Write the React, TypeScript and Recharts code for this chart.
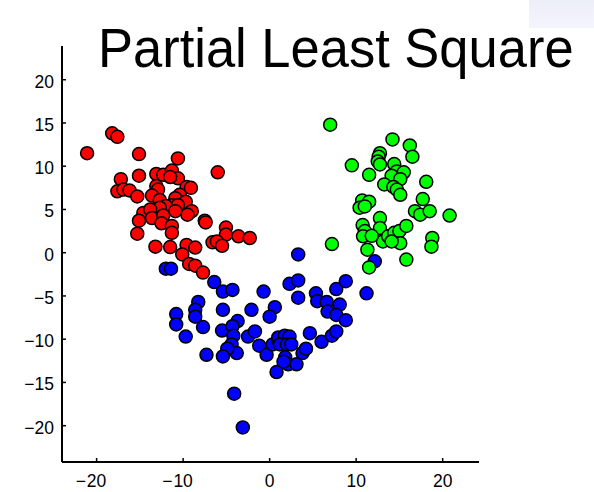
import React from 'react';
import { ScatterChart, Scatter, XAxis, YAxis } from 'recharts';

const title = 'Partial Least Square';
const xTicks = [-20, -10, 0, 10, 20];
const yTicks = [-20, -15, -10, -5, 0, 5, 10, 15, 20];

const redPoints: number[][] = [
  [-21.1, 11.5], [-18.2, 13.8], [-17.6, 13.4], [-15.1, 11.4], [-10.6, 10.9], [-6.0, 9.3],
  [-15.1, 8.9], [-17.2, 8.5], [-13.1, 9.1], [-12.3, 9.0], [-11.3, 9.5], [-10.6, 8.6],
  [-11.5, 8.75], [-17.6, 7.1], [-16.9, 7.3], [-16.2, 7.2], [-15.3, 6.5], [-13.1, 7.7],
  [-12.9, 7.3], [-13.6, 6.6], [-12.7, 6.1], [-9.6, 7.6], [-9.1, 7.5], [-10.4, 6.7],
  [-10.9, 6.3], [-9.7, 5.9], [-11.3, 5.5], [-10.6, 5.5], [-12.0, 5.4], [-12.7, 5.2],
  [-14.6, 4.6], [-13.8, 5.0], [-9.0, 4.8], [-9.5, 4.4], [-10.9, 4.8], [-15.1, 3.7],
  [-13.6, 4.0], [-12.3, 4.3], [-12.5, 3.4], [-11.3, 3.1], [-11.3, 2.3], [-15.3, 2.2],
  [-7.5, 3.7], [-7.4, 3.5], [-5.05, 2.9], [-5.05, 2.1], [-3.6, 1.9], [-2.3, 1.7],
  [-6.6, 1.2], [-6.1, 1.3], [-5.5, 0.8], [-13.2, 0.7], [-11.5, 0.65], [-9.6, 0.9],
  [-8.6, 0.6], [-10.1, -0.2], [-9.3, -1.3], [-8.6, -1.5], [-7.7, -2.3],
];

const bluePoints: number[][] = [
  [-12.0, -1.85], [-11.4, -1.85], [-6.4, -3.4], [-5.4, -4.5], [-4.3, -4.3], [-0.7, -4.5],
  [-8.25, -5.7], [-8.6, -6.6], [-8.6, -7.4], [-10.8, -7.1], [-10.8, -8.3], [-9.7, -9.7],
  [-7.7, -8.6], [-5.4, -6.6], [-2.1, -6.6], [0.6, -6.3], [0.0, -7.4], [-5.5, -9.0],
  [-3.7, -7.9], [-4.3, -8.5], [-4.2, -9.6], [-4.4, -10.6], [-3.8, -11.6], [-4.9, -11.1],
  [-5.4, -12.0], [-7.3, -11.8], [-2.5, -9.7], [-1.7, -9.1], [-1.2, -10.75], [-0.35, -11.8],
  [0.35, -10.6], [1.0, -10.1], [0.8, -13.8], [-4.1, -16.3], [-3.1, -20.2],
  [3.3, -0.2], [2.3, -3.6], [3.3, -3.2], [3.3, -5.2], [5.35, -4.7], [5.5, -5.6],
  [7.7, -4.2], [8.8, -3.3], [6.6, -5.7], [8.1, -6.0], [6.7, -6.8], [7.7, -7.2],
  [8.8, -7.8], [11.2, -4.7], [4.65, -9.3], [6.0, -10.3], [7.2, -9.6], [7.7, -9.1],
  [1.0, -9.8], [1.75, -9.6], [2.3, -9.7], [1.2, -10.6], [2.0, -10.6], [2.5, -10.6],
  [1.8, -12.1], [2.15, -12.9], [1.6, -12.6], [3.1, -12.9], [3.8, -11.6], [4.2, -11.1],
  [12.15, -1.0],
];

const greenPoints: number[][] = [
  [7.0, 14.8], [14.2, 13.1], [16.2, 12.4], [16.5, 11.1], [12.75, 11.5], [12.6, 11.1],
  [12.5, 10.55], [12.75, 10.2], [9.5, 10.1], [11.5, 9.0], [14.4, 10.25], [14.7, 9.4],
  [15.5, 9.3], [14.1, 8.9], [15.1, 8.5], [13.25, 7.9], [14.3, 7.6], [14.7, 7.3],
  [15.1, 6.7], [18.1, 8.2], [17.7, 6.2], [16.8, 4.8], [17.4, 4.4], [18.5, 4.8],
  [20.8, 4.3], [10.7, 6.05], [11.5, 5.9], [10.4, 5.2], [11.0, 5.35], [10.75, 3.2],
  [11.0, 2.5], [10.8, 1.9], [12.75, 4.0], [12.75, 2.85], [13.1, 1.3], [11.8, 1.95],
  [11.3, 0.35], [13.7, 1.9], [14.4, 2.3], [15.0, 2.5], [15.1, 1.1], [14.1, 1.3],
  [15.8, 3.1], [18.8, 1.7], [18.7, 0.7], [7.2, 1.0], [15.8, -0.8], [11.5, -1.7],
];

const toData = (pts: number[][]) => pts.map(([x, y]) => ({ x, y }));

const FONT = '"Liberation Sans", Arial, sans-serif';

const makeDot = (fill: string) => (props: any) => {
  const { cx, cy } = props;
  if (cx == null || cy == null) return <g />;
  return <circle cx={cx} cy={cy} r={6.5} fill={fill} stroke="#000" strokeWidth={1.5} />;
};

const Y_MARGIN = 8;
const X_MARGIN = 25;

const YTick = (props: any) => {
  const { x, y, payload } = props;
  const axisX = x + Y_MARGIN;
  const v = payload.value as number;
  const label = v < 0 ? '\u2212' + Math.abs(v) : String(v);
  return (
    <g>
      <line x1={axisX} x2={axisX + 4} y1={y} y2={y} stroke="#000" strokeWidth={1.5} />
      <text x={x} y={y + 8} textAnchor="end" fontSize={17.5} fontFamily={FONT} fill="#000">
        {label}
      </text>
    </g>
  );
};

const XTick = (props: any) => {
  const { x, y, payload } = props;
  const axisY = y - X_MARGIN;
  const v = payload.value as number;
  const digits = String(Math.abs(v));
  const half = (digits.length * 9.7) / 2;
  return (
    <g>
      <line x1={x} x2={x} y1={axisY} y2={axisY - 4} stroke="#000" strokeWidth={1.5} />
      <text x={x} y={y} textAnchor="middle" fontSize={17.5} fontFamily={FONT} fill="#000">
        {digits}
      </text>
      {v < 0 && (
        <text x={x - half - 1} y={y} textAnchor="end" fontSize={17.5} fontFamily={FONT} fill="#000">
          {'\u2212'}
        </text>
      )}
    </g>
  );
};

export default function App() {
  return (
    <div style={{ position: 'absolute', left: 0, top: 0, width: 594, height: 492, background: '#fff' }}>
      <div
        style={{
          position: 'absolute',
          left: 529,
          top: 0,
          width: 65,
          height: 28,
          background: 'linear-gradient(180deg, #eceef9 0%, #f4f5fc 100%)',
        }}
      />
      <div style={{ position: 'absolute', left: 0, top: 0 }}>
        <ScatterChart width={594} height={492} margin={{ top: 46, right: 115, bottom: 0, left: 0 }}>
          <XAxis
            type="number"
            dataKey="x"
            domain={[-24, 24.2]}
            ticks={xTicks}
            allowDataOverflow
            height={30}
            tickSize={0}
            tickMargin={X_MARGIN}
            tickLine={false}
            axisLine={{ stroke: '#000', strokeWidth: 2 }}
            tick={<XTick />}
            interval={0}
          />
          <YAxis
            type="number"
            dataKey="y"
            domain={[-24.2, 23.9]}
            ticks={yTicks}
            allowDataOverflow
            width={62}
            tickSize={0}
            tickMargin={Y_MARGIN}
            tickLine={false}
            axisLine={{ stroke: '#000', strokeWidth: 2 }}
            tick={<YTick />}
            interval={0}
          />
          <Scatter data={toData(redPoints)} shape={makeDot('#ff0000')} isAnimationActive={false} />
          <Scatter data={toData(bluePoints)} shape={makeDot('#0000ff')} isAnimationActive={false} />
          <Scatter data={toData(greenPoints)} shape={makeDot('#00ff00')} isAnimationActive={false} />
        </ScatterChart>
      </div>
      <svg
        width={594}
        height={492}
        style={{ position: 'absolute', left: 0, top: 0, pointerEvents: 'none' }}
      >
        <text
          transform="translate(98,67) scale(1,1.065)"
          x={0}
          y={0}
          fontSize={52.5}
          fontFamily={FONT}
          fill="#000"
        >
          {title}
        </text>
      </svg>
    </div>
  );
}
